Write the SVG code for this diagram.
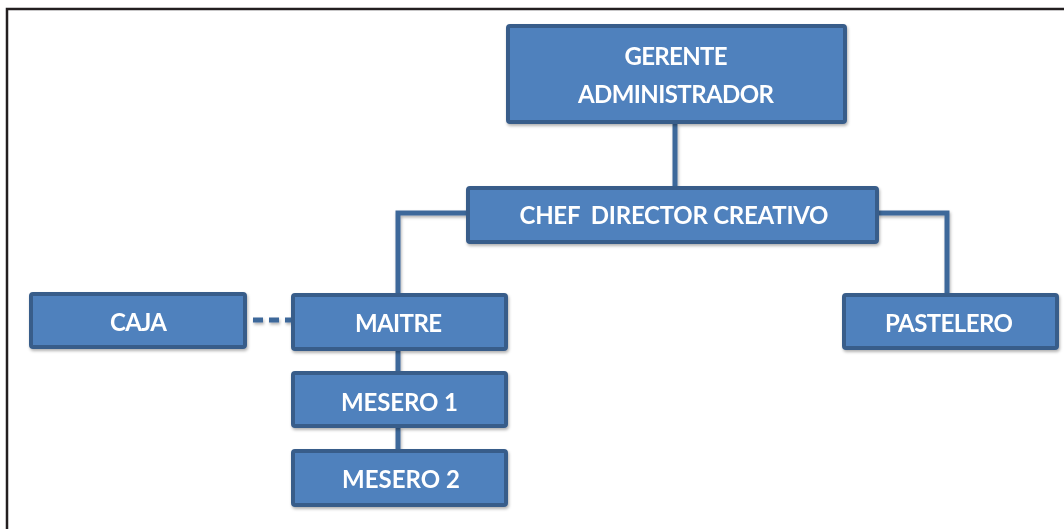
<svg xmlns="http://www.w3.org/2000/svg" width="1064" height="529" viewBox="0 0 1064 529">
  <defs>
    <filter id="sh" x="-10%" y="-20%" width="130%" height="160%">
      <feDropShadow dx="1" dy="2" stdDeviation="1.5" flood-color="#000" flood-opacity="0.3"/>
    </filter>
  </defs>
  <style>
    .box { fill: #4F81BD; stroke: #385D8A; stroke-width: 4; }
    .lbl { font-family: Lato, "Open Sans", "Liberation Sans", sans-serif; font-weight: 700; font-size: 24px; fill: #FFFFFF; text-anchor: middle; }
    .conn { fill: none; stroke: #3C679A; stroke-width: 5; }
    .dot { fill: none; stroke: #3C679A; stroke-width: 5; stroke-dasharray: 10 6; }
    .frame { fill: none; stroke: #231F20; stroke-width: 2.5; }
  </style>
  <rect x="0" y="0" width="1064" height="529" fill="#FFFFFF"/>
  <path class="frame" d="M7,529 V9 H1064"/>

  <g id="connectors" filter="url(#sh)">
    <path class="conn" d="M675,124 V187"/>
    <path class="conn" d="M467,213 H398 V294"/>
    <path class="conn" d="M878,213 H947 V294"/>
    <path class="conn" d="M398,350 V372"/>
    <path class="conn" d="M398,427 V450"/>
    <path class="dot" d="M253,320 H291"/>
  </g>

  <g id="gerente" filter="url(#sh)">
    <rect class="box" x="508" y="26" width="337" height="96" rx="2"/>
    <text class="lbl" x="676" y="65" textLength="103">GERENTE</text>
    <text class="lbl" x="676" y="103" textLength="196">ADMINISTRADOR</text>
  </g>
  <g id="chef" filter="url(#sh)">
    <rect class="box" x="468" y="188" width="409" height="54" rx="2"/>
    <text class="lbl" x="674" y="224" textLength="309" xml:space="preserve">CHEF  DIRECTOR CREATIVO</text>
  </g>
  <g id="caja" filter="url(#sh)">
    <rect class="box" x="31" y="294" width="214" height="53" rx="2"/>
    <text class="lbl" x="138.5" y="331" textLength="57">CAJA</text>
  </g>
  <g id="maitre" filter="url(#sh)">
    <rect class="box" x="293" y="295" width="213" height="54" rx="2"/>
    <text class="lbl" x="398.5" y="332" textLength="87">MAITRE</text>
  </g>
  <g id="mesero1" filter="url(#sh)">
    <rect class="box" x="293" y="373" width="213" height="53" rx="2"/>
    <text class="lbl" x="399.5" y="411" textLength="117">MESERO 1</text>
  </g>
  <g id="mesero2" filter="url(#sh)">
    <rect class="box" x="293" y="451" width="213" height="54" rx="2"/>
    <text class="lbl" x="401" y="488" textLength="118">MESERO 2</text>
  </g>
  <g id="pastelero" filter="url(#sh)">
    <rect class="box" x="844" y="295" width="213" height="53" rx="2"/>
    <text class="lbl" x="949" y="332" textLength="128">PASTELERO</text>
  </g>
</svg>
